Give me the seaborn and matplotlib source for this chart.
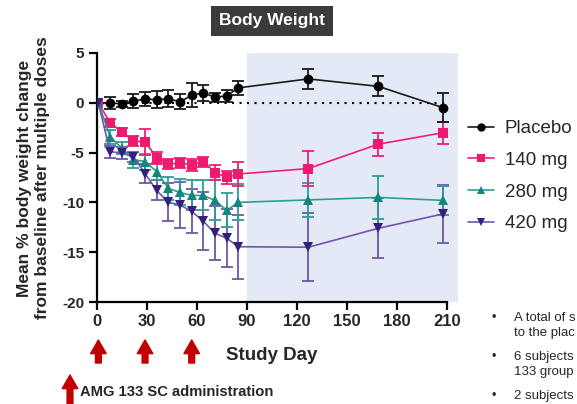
import matplotlib
matplotlib.use("Agg")
import matplotlib.pyplot as plt
from matplotlib.lines import Line2D
import seaborn as sns
import pandas as pd
import numpy as np

# ---------------- data ----------------
days = [1, 8, 15, 22, 29, 36, 43, 50, 57, 64, 71, 78, 85, 127, 169, 208]
groups = ["Placebo", "140 mg", "280 mg", "420 mg"]
placebo = [0.0, 0.0, -0.1, 0.15, 0.4, 0.3, 0.4, 0.1, 0.75, 1.0, 0.55, 0.7, 1.5, 2.4, 1.65, -0.5]
placebo_err = [0.0, 0.6, 0.3, 0.7, 0.7, 0.85, 0.85, 0.75, 1.2, 0.8, 0.45, 0.6, 0.7, 1.0, 1.0, 1.45]
mg140 = [0.0, -2.0, -2.9, -3.85, -3.9, -5.5, -6.15, -6.05, -6.2, -5.9, -7.0, -7.5, -7.15, -6.6, -4.15, -3.0]
mg140_err = [0.0, 0.4, 0.4, 0.5, 1.3, 0.6, 0.5, 0.5, 0.6, 0.5, 0.8, 0.7, 1.2, 1.8, 1.15, 1.1]
mg280 = [0.0, -3.4, -4.55, -5.7, -5.9, -6.9, -8.6, -9.0, -9.3, -9.3, -9.8, -10.8, -10.0, -9.75, -9.5, -9.8]
mg280_err = [0.0, 0.7, 0.6, 0.8, 0.8, 0.9, 1.2, 1.3, 1.5, 1.5, 2.0, 1.7, 1.8, 1.7, 2.15, 1.45]
mg420 = [0.0, -4.9, -5.05, -5.4, -7.1, -8.8, -10.0, -10.25, -10.9, -11.9, -13.1, -13.6, -14.45, -14.5, -12.6, -11.15]
mg420_err = [0.0, 0.6, 0.6, 0.5, 1.0, 1.0, 1.9, 2.3, 2.2, 2.9, 2.7, 2.9, 3.2, 3.4, 3.0, 2.9]

dose_days = [1, 29, 57]
x_ticks = [0, 30, 60, 90, 120, 150, 180, 210]
y_ticks = [-20, -15, -10, -5, 0, 5]

values = {"Placebo": placebo, "140 mg": mg140, "280 mg": mg280, "420 mg": mg420}
errors = {"Placebo": placebo_err, "140 mg": mg140_err, "280 mg": mg280_err, "420 mg": mg420_err}

line_colors = {"Placebo": "#1a1a1a", "140 mg": "#ee1f74", "280 mg": "#2d9c96", "420 mg": "#7155aa"}
marker_colors = {"Placebo": "#000000", "140 mg": "#ee1a70", "280 mg": "#17857f", "420 mg": "#33207c"}
markers = {"Placebo": "o", "140 mg": "s", "280 mg": "^", "420 mg": "v"}

df = pd.DataFrame(
    [(d, v, e, g) for g in groups for d, v, e in zip(days, values[g], errors[g])],
    columns=["day", "value", "err", "group"],
)

# ---------------- figure ----------------
sns.set_theme(style="ticks")
plt.rcParams["font.family"] = ["Liberation Sans", "DejaVu Sans"]

W, H = 577, 404
fig = plt.figure(figsize=(W / 100, H / 100), dpi=100)
fig.patch.set_facecolor("white")

def fx(px):
    return px / W

def fy(py):
    return 1 - py / H

x0_px, x1_px = 96.7, 458.4
y_top, y_bot = 53, 302
ax = fig.add_axes([fx(x0_px), fy(y_bot), fx(x1_px) - fx(x0_px), fy(y_top) - fy(y_bot)])
ax.set_facecolor("white")

ax.set_xlim(0, 217)
ax.set_ylim(-20, 5)

# shaded follow-up region
ax.axvspan(90, 217, color="#e3e9f5", zorder=0, lw=0)

# dotted zero line
ax.plot([0, 210], [0, 0], color="black", lw=1.5, ls=(0, (1, 2.6)), zorder=1)

# error bars
order_z = {"Placebo": 6, "140 mg": 5, "280 mg": 4, "420 mg": 3}
for g in ["420 mg", "280 mg", "140 mg", "Placebo"]:
    sub = df[df.group == g]
    ax.errorbar(sub.day, sub.value, yerr=sub.err, fmt="none", ecolor=line_colors[g],
                elinewidth=1.3, capsize=4.5, capthick=1.3, zorder=order_z[g])

# lines + markers with seaborn
sns.lineplot(data=df, x="day", y="value", hue="group", style="group",
             hue_order=groups, style_order=groups,
             palette=line_colors, markers=markers, dashes=False,
             errorbar=None, lw=1.2, markersize=7, markeredgewidth=0,
             legend=False, ax=ax, zorder=7)

# recolor markers
for line, g in zip(ax.lines[-4:], groups):
    line.set_markerfacecolor(marker_colors[g])
    line.set_markeredgecolor(marker_colors[g])

# axes styling
for s in ["top", "right"]:
    ax.spines[s].set_visible(False)
for s in ["left", "bottom"]:
    ax.spines[s].set_linewidth(1.6)
    ax.spines[s].set_color("black")
ax.spines["bottom"].set_bounds(0, 210)
ax.spines["left"].set_bounds(-20, 5)
ax.set_xticks(x_ticks)
ax.set_yticks(y_ticks)
ax.set_xticklabels([str(t) for t in x_ticks], fontsize=12, fontweight="bold")
ax.set_yticklabels([str(t) for t in y_ticks], fontsize=11, fontweight="bold")
ax.tick_params(axis="both", direction="out", length=6, width=1.6, color="black", pad=3)
ax.set_xlabel("")
ax.set_ylabel("")

# axis labels
fig.text(fx(34), fy(178), "Mean % body weight change\nfrom baseline after multiple doses",
         rotation=90, ha="center", va="center", fontsize=12.5, fontweight="bold",
         linespacing=1.25, multialignment="center")
fig.text(fx(272), fy(355), "Study Day", ha="center", va="center", fontsize=13.5,
         fontweight="bold")

# title box
fig.text(fx(272), fy(21), "Body Weight", ha="center", va="center", fontsize=12.5,
         fontweight="bold", color="white",
         bbox=dict(boxstyle="square,pad=0.45", fc="#3b3b3b", ec="none"))

# dosing arrows
arrow_kw = dict(arrowstyle="simple,head_length=0.7,head_width=0.8,tail_width=0.3",
                color="#c00000", shrinkA=0, shrinkB=0, mutation_scale=14)
for d in dose_days:
    ax.annotate("", xy=(d, H - 340), xytext=(d, H - 363),
                xycoords=("data", "figure pixels"), textcoords=("data", "figure pixels"),
                arrowprops=arrow_kw, annotation_clip=False)
fig.add_artist(matplotlib.patches.FancyArrowPatch(
    (fx(70), fy(412)), (fx(70), fy(375)), transform=fig.transFigure,
    arrowstyle="simple,head_length=0.7,head_width=0.8,tail_width=0.3",
    color="#c00000", mutation_scale=14, shrinkA=0, shrinkB=0))
fig.text(fx(80), fy(392), "AMG 133 SC administration", ha="left", va="center",
         fontsize=10.6, fontweight="bold", color="#262626")

# legend
handles = [Line2D([0], [0], color=line_colors[g], lw=1.2, marker=markers[g], markersize=6,
                  markerfacecolor=marker_colors[g], markeredgewidth=0) for g in groups]
fig.legend(handles, groups, loc="upper left", bbox_to_anchor=(fx(468), fy(120)),
           frameon=False, fontsize=13.5, handlelength=1.4, handletextpad=0.55,
           labelspacing=0.78, borderpad=0, borderaxespad=0)

# bullet notes (the slide text is cut off at the right edge in the source)
notes = [
    (318, "A total of s", True),
    (333, "to the plac", False),
    (357, "6 subjects", True),
    (372, "133 group", False),
    (396, "2 subjects", True),
]
for py, txt, bullet in notes:
    if bullet:
        fig.text(fx(491), fy(py), "\u2022", ha="left", va="center", fontsize=9, color="#262626")
    fig.text(fx(514), fy(py), txt, ha="left", va="center", fontsize=9.5, color="#262626")

fig.savefig("out.png", dpi=100)
